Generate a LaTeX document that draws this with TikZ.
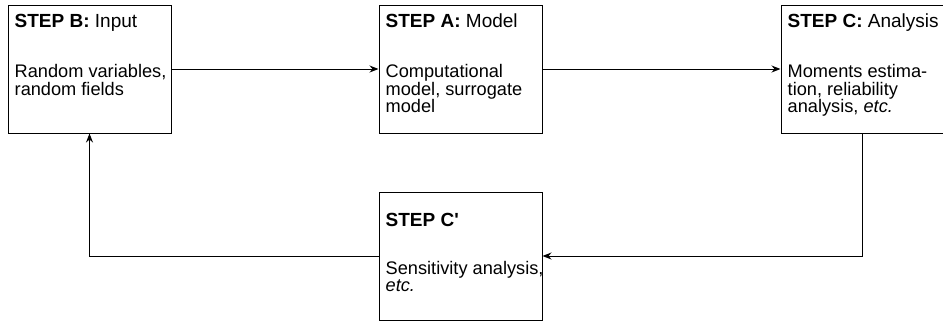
\documentclass[tikz,border=0pt]{standalone}
\usepackage{fontspec}
\setmainfont{Liberation Sans}
\usetikzlibrary{arrows.meta}

\begin{document}
\begin{tikzpicture}[x=1pt,y=1pt,
  stepbox/.style={draw, line width=1pt, minimum width=163pt, minimum height=128pt, inner sep=0pt},
  steptitle/.style={anchor=base west, inner sep=0pt, font=\fontsize{19}{19}\selectfont},
  steptext/.style={anchor=base west, align=left, inner sep=0pt, font=\fontsize{18.2}{17.8}\selectfont},
  flow/.style={line width=1pt, -{Stealth[length=9pt,width=7pt]}}]
\useasboundingbox (0,0) rectangle (943,-322);

% the four steps
\node[stepbox] (b)  at (89.5,-69) {};
\node[stepbox] (a)  at (460.5,-69) {};
\node[stepbox] (c)  at (862.5,-69) {};
\node[stepbox] (cp) at (460.5,-256) {};

% texts (base = last line)
\node[steptitle] (btitle) at ([xshift=7pt,yshift=-22.7pt]b.north west) {\textbf{STEP B:} Input};
\node[steptext] (btext) at ([xshift=7pt,yshift=-90.5pt]b.north west)
  {Random variables,\\random fields};
\node[steptitle] (atitle) at ([xshift=7pt,yshift=-22.7pt]a.north west) {\textbf{STEP A:} Model};
\node[steptext] (atext) at ([xshift=7pt,yshift=-108.3pt]a.north west)
  {Computational\\model, surrogate\\model};
\node[steptitle] (ctitle) at ([xshift=7pt,yshift=-22.7pt]c.north west) {\textbf{STEP C:} Analysis};
\node[steptext] (ctext) at ([xshift=7pt,yshift=-108.3pt]c.north west)
  {Moments estima-\\tion, reliability\\analysis, \textit{etc.}};
\node[steptitle] (cptitle) at ([xshift=7pt,yshift=-35pt]cp.north west) {\textbf{STEP C\textquotesingle}};
\node[steptext] (cptext) at ([xshift=7pt,yshift=-100.3pt]cp.north west)
  {Sensitivity analysis,\\\textit{etc.}};

% connectors
\draw[flow] (b.east) -- (a.west);
\draw[flow] (a.east) -- (c.west);
\draw[flow] (c.south) |- (cp.east);
\draw[flow] (cp.west) -| (b.south);

\end{tikzpicture}
\end{document}
